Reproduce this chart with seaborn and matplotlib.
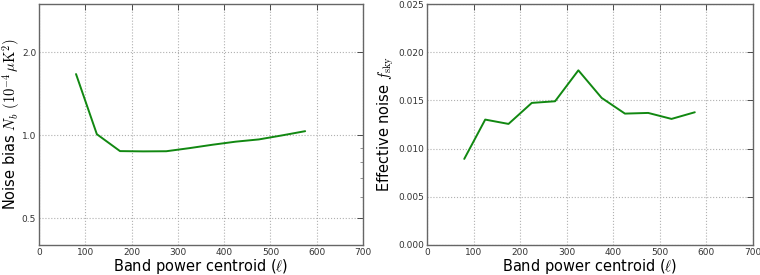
import numpy as np
import pandas as pd
import matplotlib
matplotlib.use("Agg")
import matplotlib.pyplot as plt
import matplotlib.ticker as mticker
import seaborn as sns

ell = [80, 125, 175, 225, 275, 325, 375, 425, 475, 525, 575]
noise_bias = [1.67, 1.01, 0.877, 0.875, 0.876, 0.899, 0.925, 0.949, 0.967, 1.0, 1.036]
fsky = [0.00893, 0.01301, 0.01256, 0.01474, 0.01491, 0.01812, 0.01526, 0.01363, 0.01370, 0.01308, 0.01377]
left_yticks = [0.5, 1.0, 2.0]
left_yticklabels = ["0.5", "1.0", "2.0"]

sns.set_theme(style="whitegrid")
plt.rcParams["font.family"] = ["DejaVu Sans"]
plt.rcParams["mathtext.fontset"] = "cm"

df = pd.DataFrame({"ell": ell, "nb": noise_bias, "fsky": fsky})

fig = plt.figure(figsize=(7.6, 2.75), dpi=100)
ax1 = fig.add_axes([39 / 760, 1 - 245 / 275, (363 - 39) / 760, 241 / 275])
ax2 = fig.add_axes([427 / 760, 1 - 245 / 275, (753 - 427) / 760, 241 / 275])

green = "#118811"
sns.lineplot(data=df, x="ell", y="nb", ax=ax1, color=green, linewidth=1.4)
sns.lineplot(data=df, x="ell", y="fsky", ax=ax2, color=green, linewidth=1.4)

ax1.set_yscale("log")
ax1.set_ylim(0.4, 3.0)
ax1.yaxis.set_major_locator(mticker.FixedLocator(left_yticks))
ax1.yaxis.set_major_formatter(mticker.FixedFormatter(left_yticklabels))
ax1.yaxis.set_minor_locator(mticker.LogLocator(base=10, subs=np.arange(2, 10)))
ax1.yaxis.set_minor_formatter(mticker.NullFormatter())

ax2.set_ylim(0, 0.025)
ax2.yaxis.set_major_locator(mticker.MultipleLocator(0.005))
ax2.yaxis.set_major_formatter(mticker.FormatStrFormatter("%.3f"))

for ax in (ax1, ax2):
    ax.set_xlim(0, 700)
    ax.xaxis.set_major_locator(mticker.MultipleLocator(100))
    ax.set_facecolor("white")
    ax.grid(True, which="major", linestyle=":", color="#b0b0b0", linewidth=0.8)
    ax.grid(False, which="minor")
    for s in ax.spines.values():
        s.set_color("#666666")
        s.set_linewidth(1.0)
    ax.tick_params(axis="both", which="major", labelsize=6.5, colors="#333333",
                   direction="in", length=4, width=0.6, pad=2)
    ax.tick_params(axis="both", which="minor", direction="in", length=2,
                   width=0.5, colors="#666666")
    ax.tick_params(top=True, right=True, which="both")
    ax.set_xlabel(r"Band power centroid ($\ell$)", fontsize=10.5, color="black", labelpad=0)

ax1.set_ylabel(r"Noise bias $N_b$ $(10^{-4}\,\mu{\rm K}^2)$", fontsize=10.5, color="black", labelpad=0)
ax2.set_ylabel(r"Effective noise $f_{\rm sky}$", fontsize=10.5, color="black", labelpad=2)

fig.savefig("out.png", dpi=100)
